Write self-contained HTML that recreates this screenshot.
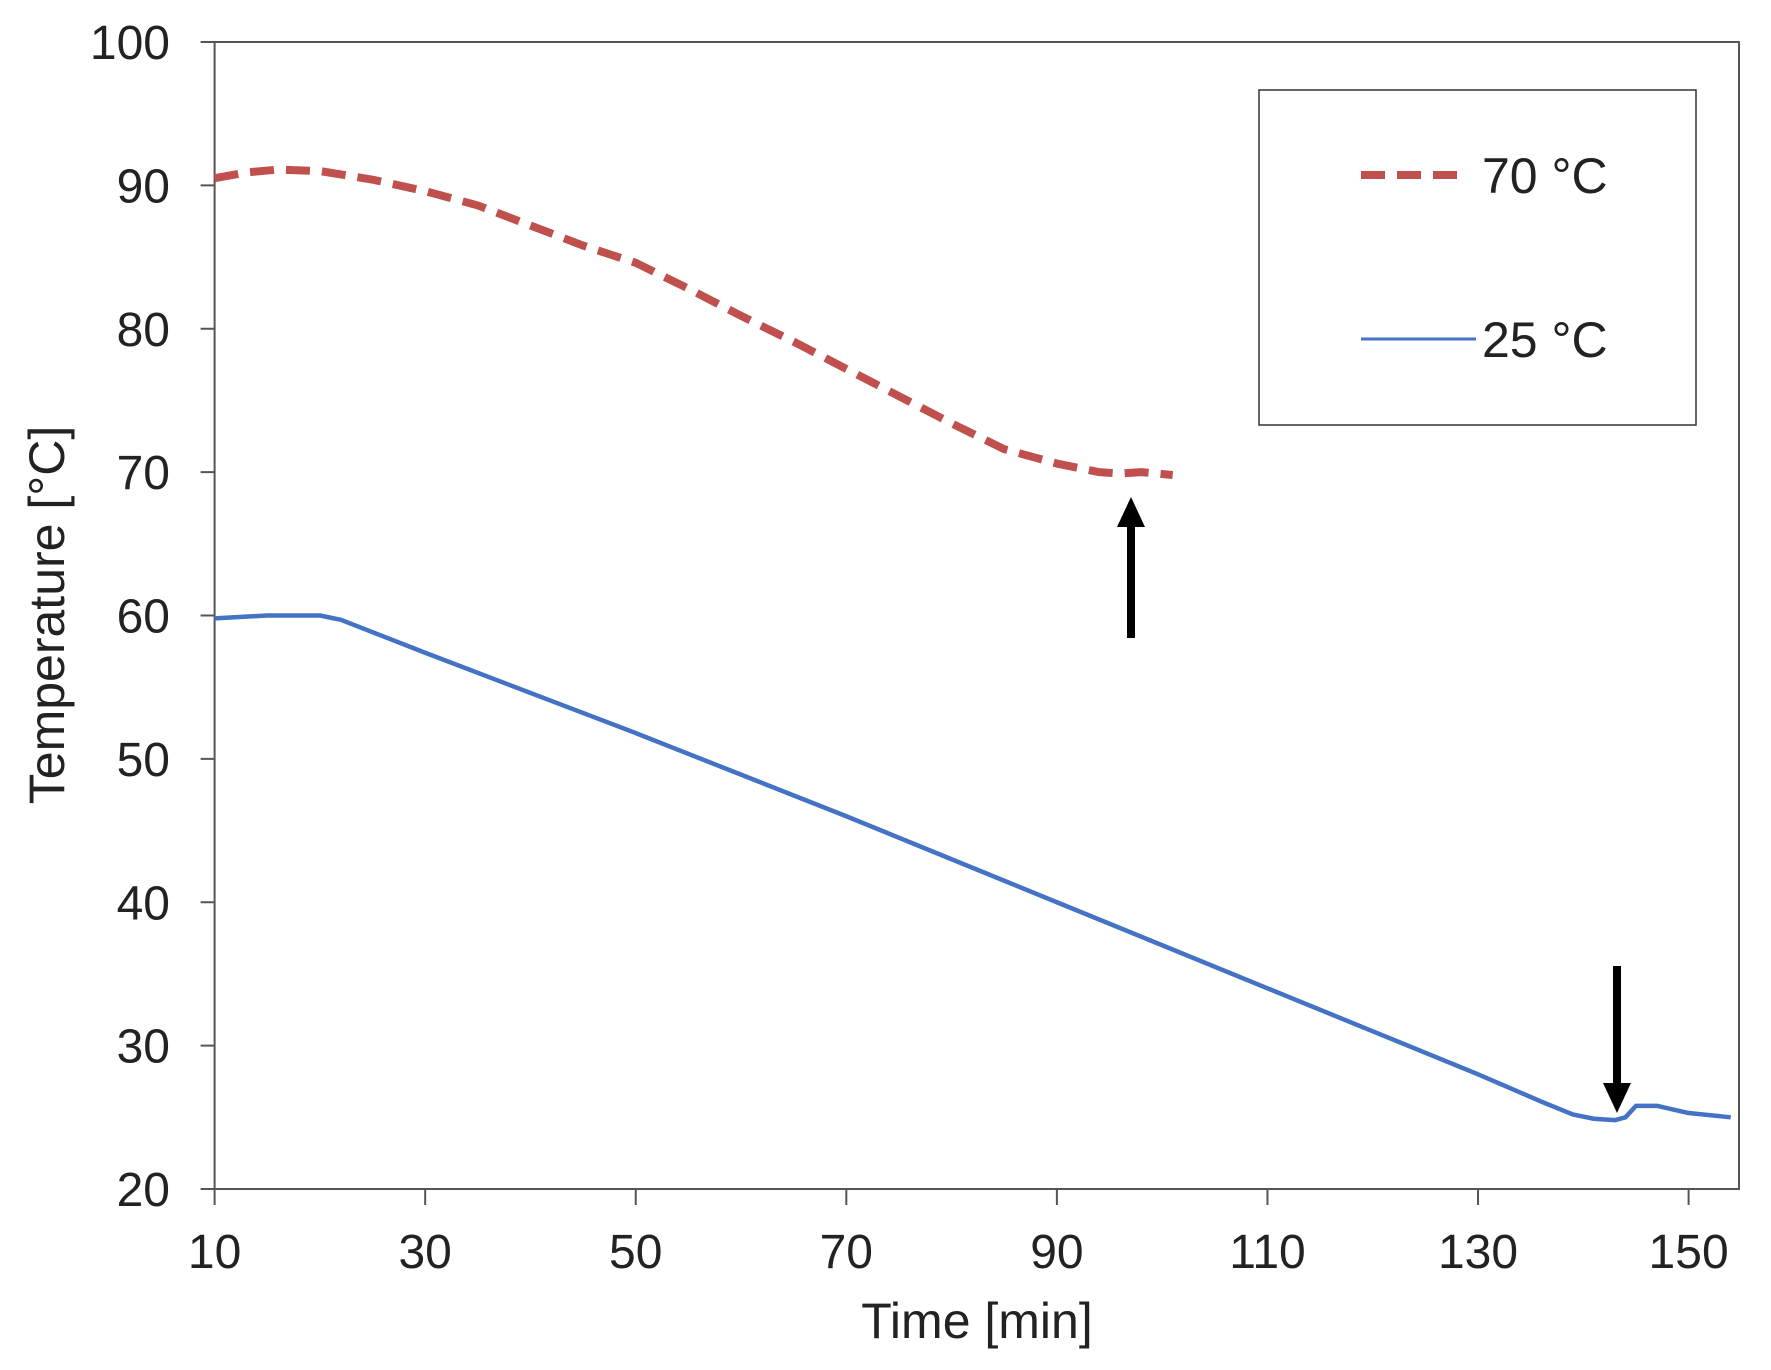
<!DOCTYPE html>
<html><head><meta charset="utf-8"><style>
html,body{margin:0;padding:0;background:#fff}
svg{display:block;font-family:"Liberation Sans",Arial,sans-serif}
</style></head><body>
<svg id="chart" width="1771" height="1370" viewBox="0 0 1771 1370">
<g id="axes"></g><g id="series"></g>
<g>
<rect x="1259" y="90" width="437" height="335" fill="#fff" stroke="#333" stroke-width="1.5"/>
<line x1="1361" y1="175" x2="1468" y2="175" stroke="#c0504d" stroke-width="8" stroke-dasharray="24,12"/>
<text x="1482" y="193" font-size="50" fill="#222">70 °C</text>
<line x1="1361" y1="339" x2="1476" y2="339" stroke="#4472c4" stroke-width="3"/>
<text x="1482" y="357" font-size="50" fill="#222">25 °C</text>
</g>
<g>
<line x1="1131" y1="638" x2="1131" y2="525" stroke="#000" stroke-width="8"/>
<polygon points="1117,527 1145,527 1131,497" fill="#000"/>
</g>
<g>
<line x1="1617" y1="966" x2="1617" y2="1085" stroke="#000" stroke-width="8"/>
<polygon points="1603,1083 1631,1083 1617,1113" fill="#000"/>
</g>
</svg>
<script>
const xTicks=[10,30,50,70,90,110,130,150];
const yTicks=[20,30,40,50,60,70,80,90,100];
const t70=[10,13,16,20,25,30,35,40,45,50,55,60,65,70,75,80,85,90,94,96,98,101];
const v70=[90.5,90.9,91.1,91,90.4,89.6,88.6,87.2,85.8,84.6,82.8,80.9,79.1,77.2,75.3,73.4,71.6,70.6,70.0,69.9,70.0,69.8];
const t25=[10,15,20,22,30,40,50,60,70,80,90,100,110,120,130,136,139,141,143,144,145,147,150,154];
const v25=[59.8,60,60,59.7,57.4,54.6,51.8,48.9,46,43,40,37,34,31,28,26.1,25.2,24.9,24.8,25.0,25.8,25.8,25.3,25.0];
const X0=214.6,X1=1688.6,Y0=1189,Y1=42;
const sx=v=>X0+(v-10)/140*(X1-X0);
const sy=v=>Y0-(v-20)/80*(Y0-Y1);
const NS='http://www.w3.org/2000/svg';
const axes=document.getElementById('axes'),series=document.getElementById('series');
function mk(tag,attrs,parent,txt){const e=document.createElementNS(NS,tag);for(const k in attrs)e.setAttribute(k,attrs[k]);if(txt!==undefined)e.textContent=txt;parent.appendChild(e);return e;}
const frame=mk('rect',{x:X0,y:Y1,width:1739-X0,height:Y0-Y1,fill:'none',stroke:'#555','stroke-width':2},axes);


yTicks.forEach(v=>{
 const l=mk('line',{x1:X0-14,x2:X0,y1:sy(v),y2:sy(v),stroke:'#555','stroke-width':2},axes);
 
 
 const t=mk('text',{x:170,y:sy(v)+17,'text-anchor':'end','font-size':48,fill:'#222'},axes,v);
 
 
});
xTicks.forEach(v=>{
 const l=mk('line',{x1:sx(v),x2:sx(v),y1:Y0,y2:Y0+16,stroke:'#555','stroke-width':2},axes);
 
 
 const t=mk('text',{x:sx(v),y:1268,'text-anchor':'middle','font-size':48,fill:'#222'},axes,v);
 
 
});
const xt=mk('text',{x:977,y:1338,'text-anchor':'middle','font-size':50,fill:'#222'},axes,'Time [min]');


const yt=mk('text',{x:0,y:0,transform:'translate(64,615) rotate(-90)','text-anchor':'middle','font-size':50,fill:'#222'},axes,'Temperature [°C]');


const p25=mk('polyline',{points:t25.map((t,i)=>sx(t)+','+sy(v25[i])).join(' '),fill:'none',stroke:'#4472c4','stroke-width':4.5,'stroke-linejoin':'round'},series);


const p70=mk('polyline',{points:t70.map((t,i)=>sx(t)+','+sy(v70[i])).join(' '),fill:'none',stroke:'#c0504d','stroke-width':8,'stroke-dasharray':'24,12','stroke-linejoin':'round'},series);


</script>
</body></html>
